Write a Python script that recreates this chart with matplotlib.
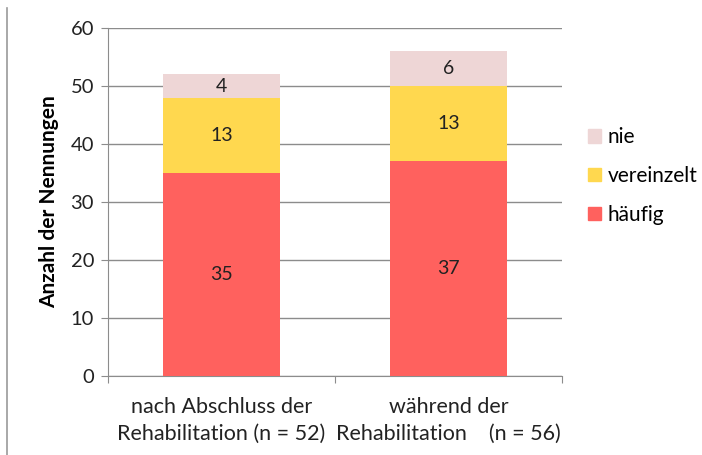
import numpy as np
import matplotlib
matplotlib.use('Agg')
import matplotlib.pyplot as plt
from matplotlib.lines import Line2D

categories = ["nach Abschluss der\nRehabilitation (n = 52)",
              "während der\nRehabilitation    (n = 56)"]
haeufig = [35, 37]
vereinzelt = [13, 13]
nie = [4, 6]
series_names = ["häufig", "vereinzelt", "nie"]
colors = ["#FF615E", "#FFD84F", "#EED6D6"]

plt.rcParams['font.family'] = ['Lato', 'DejaVu Sans']

fig = plt.figure(figsize=(7.02, 4.55), dpi=100)
ax = fig.add_axes([108/702, 1-376/455, (562-108)/702, (376-28)/455])

x = np.arange(len(categories))
w = 0.515
bottom = np.zeros(len(categories))
for vals, col, name in zip([haeufig, vereinzelt, nie], colors, series_names):
    ax.bar(x, vals, w, bottom=bottom, color=col, label=name, zorder=3)
    for xi, v, bt in zip(x, vals, bottom):
        ax.text(xi, bt + v/2, str(v), ha='center', va='center',
                fontsize=14, color='#222222', zorder=4)
    bottom = bottom + np.array(vals)

ax.set_xlim(-0.5, 1.5)
ax.set_ylim(0, 60)
ax.set_yticks(np.arange(0, 61, 10))
ax.yaxis.grid(True, color='#8c8c8c', linewidth=1.0, zorder=0)
ax.set_axisbelow(True)
for s in ['top', 'right']:
    ax.spines[s].set_visible(False)
ax.spines['left'].set_color('#8c8c8c')
ax.spines['bottom'].set_color('#8c8c8c')
ax.tick_params(axis='y', length=5, color='#8c8c8c', labelsize=14.5, labelcolor='#222222', pad=5)
ax.set_xticks([-0.5, 0.5, 1.5], minor=False)
ax.set_xticklabels([])
ax.tick_params(axis='x', length=5, color='#8c8c8c', direction='out')
ax.set_xticks(x, minor=True)
ax.set_xticklabels(categories, minor=True, fontsize=15.5, color='#222222', linespacing=1.45)
ax.tick_params(axis='x', which='minor', length=0, pad=15)

ax.set_ylabel("Anzahl der Nennungen", fontsize=15, fontweight='bold', labelpad=8)

handles = [plt.Rectangle((0, 0), 1, 1, color=c) for c in colors]
fig.legend(handles[::-1], series_names[::-1], loc='center left',
           bbox_to_anchor=(588/702, 1-176/455), frameon=False,
           fontsize=15, handlelength=0.6, handleheight=0.6,
           handletextpad=0.35, labelspacing=0.9, borderpad=0,
           borderaxespad=0)

fig.add_artist(Line2D([7/702, 7/702], [0, 1-8/455], transform=fig.transFigure,
                      color='#9a9a9a', linewidth=1.2))

fig.savefig("out.png", dpi=100)
